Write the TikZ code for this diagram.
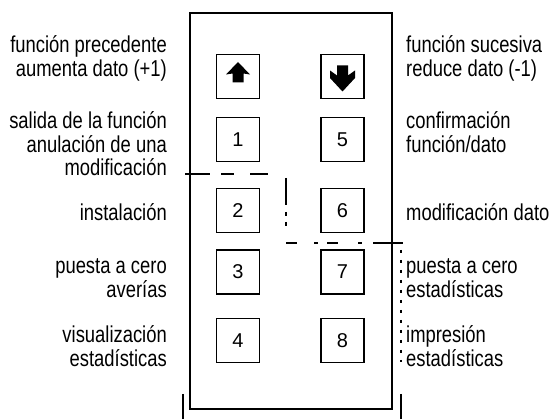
\documentclass[tikz,border=0pt]{standalone}
\usepackage{fontspec}
\setmainfont{Liberation Sans}[FakeStretch=0.8]
\newfontfamily\digfont{Liberation Sans}
\begin{document}
\begin{tikzpicture}[x=1pt,y=-1pt,
  btn/.style={draw,line width=1.4pt,minimum width=43pt,minimum height=44pt,inner sep=0pt,font=\digfont\fontsize{20}{20}\selectfont},
  lab/.style={inner sep=0pt,font=\fontsize{23}{24}\selectfont},
  labl/.style={lab,anchor=base east},
  labr/.style={lab,anchor=base west},
  dsh/.style={line width=1.5pt}]
\useasboundingbox[fill=white] (0,0) rectangle (550,419);
% outer frame
\draw[line width=1.8pt] (190,13) rectangle (392,409);
\draw[line width=1.5pt] (183,394) -- (183,419);
\draw[line width=1.5pt] (401,394) -- (401,419);
% buttons
\node[btn] (up) at (238,76.5) {};
\node[btn] (dn) at (342.5,76.5) {};
\node[btn] (b1) at (238,139.5) {1};
\node[btn] (b5) at (342.5,139.5) {5};
\node[btn] (b2) at (238,210.5) {2};
\node[btn] (b6) at (342.5,210.5) {6};
\node[btn] (b3) at (238,272) {3};
\node[btn] (b7) at (342.5,272) {7};
\node[btn] (b4) at (238,340.5) {4};
\node[btn] (b8) at (342.5,340.5) {8};
% arrows
\fill ([shift={(0,-14.5)}]up.center) -- ([shift={(12,-2)}]up.center) -- ([shift={(5.5,-3)}]up.center)
  -- ([shift={(5.5,6)}]up.center) -- ([shift={(-5.5,6)}]up.center) -- ([shift={(-5.5,-3)}]up.center)
  -- ([shift={(-12,-2)}]up.center) -- cycle;
\fill ([shift={(-5.5,-11)}]dn.center) -- ([shift={(5.5,-11)}]dn.center) -- ([shift={(5.5,-1)}]dn.center)
  -- ([shift={(12.5,-6)}]dn.center) -- ([shift={(12.5,1.5)}]dn.center) -- ([shift={(0,15)}]dn.center)
  -- ([shift={(-12.5,1.5)}]dn.center) -- ([shift={(-12.5,-6)}]dn.center) -- ([shift={(-5.5,-1)}]dn.center) -- cycle;
% dashed lines
\draw[dsh] (185,174) -- (210,174);
\draw[dsh] (221,174) -- (234,174);
\draw[dsh] (250,174) -- (268,174);
\draw[dsh] (286,178) -- (286,205);
\draw[dsh] (286,212) -- (286,216);
\draw[dsh] (286,222) -- (286,226);
\draw[dsh] (286,243) -- (297,243);
\draw[dsh] (314,243) -- (318,243);
\draw[dsh] (327,243) -- (338,243);
\draw[dsh] (358,243) -- (362,243);
\draw[dsh] (373,243) -- (403,243);
\draw[line width=2pt,dash pattern=on 3pt off 7pt] (401,250) -- (401,362);
% left labels
\node[labl] (l1a) at (167,53) {función precedente};
\node[labl] (l1b) at (167,77) {aumenta dato (+1)};
\node[labl] (l2a) at (167,129) {salida de la función};
\node[labl] (l2b) at (167,153) {anulación de una};
\node[labl] (l2c) at (167,176) {modificación};
\node[labl] (l3a) at (167,221) {instalación};
\node[labl] (l4a) at (167,274) {puesta a cero};
\node[labl] (l4b) at (167,298) {averías};
\node[labl] (l5a) at (167,343) {visualización};
\node[labl] (l5b) at (167,367) {estadísticas};
% right labels
\node[labr] (r1a) at (406,53) {función sucesiva};
\node[labr] (r1b) at (406,77) {reduce dato (-1)};
\node[labr] (r2a) at (406,129) {confirmación};
\node[labr] (r2b) at (406,153) {función/dato};
\node[labr] (r3a) at (406,221) {modificación dato};
\node[labr] (r4a) at (406,274) {puesta a cero};
\node[labr] (r4b) at (406,298) {estadísticas};
\node[labr] (r5a) at (406,343) {impresión};
\node[labr] (r5b) at (406,367) {estadísticas};
\end{tikzpicture}
\end{document}
